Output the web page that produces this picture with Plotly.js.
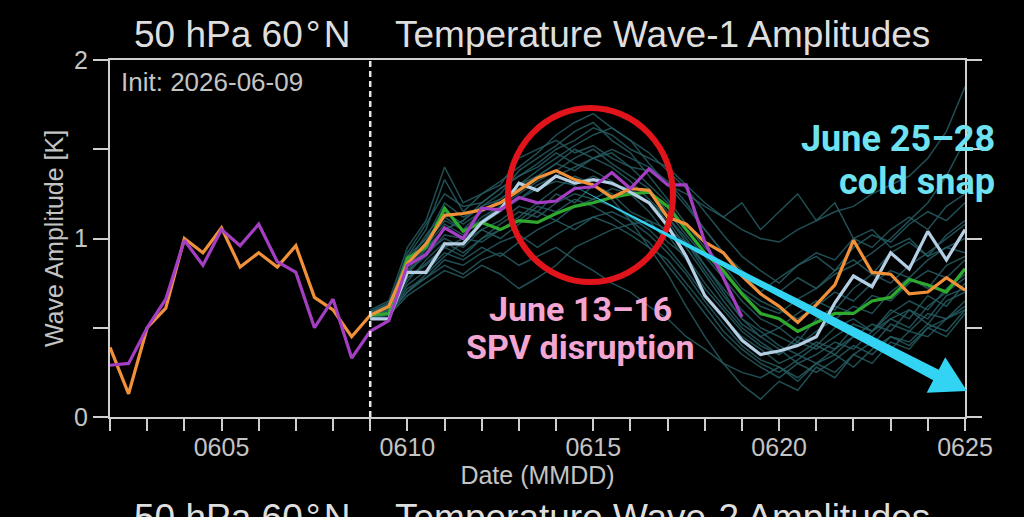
<!DOCTYPE html>
<html>
<head>
<meta charset="utf-8">
<script src="https://cdn.plot.ly/plotly-3.0.1.min.js"></script>
<style>
html,body{margin:0;padding:0;background:#000;}
#chart{width:1024px;height:517px;}
</style>
</head>
<body>
<div id="chart"></div>
<script>
// Time axis: day of June, 12-hourly
const days = [2,2.5,3,3.5,4,4.5,5,5.5,6,6.5,7,7.5,8,8.5,9,9.5,10,10.5,11,11.5,12,12.5,13,13.5,14,14.5,15,15.5,16,16.5,17,17.5,18,18.5,19,19.5,20,20.5,21,21.5,22,22.5,23,23.5,24,24.5,25];
const fcDays = [9,9.5,10,10.5,11,11.5,12,12.5,13,13.5,14,14.5,15,15.5,16,16.5,17,17.5,18,18.5,19,19.5,20,20.5,21,21.5,22,22.5,23,23.5,24,24.5,25];
const purpleDays = [2,2.5,3,3.5,4,4.5,5,5.5,6,6.5,7,7.5,8,8.5,9,9.5,10,10.5,11,11.5,12,12.5,13,13.5,14,14.5,15,15.5,16,16.5,17,17.5,18,18.5,19];

const orange = [0.39,0.13,0.50,0.61,1.00,0.92,1.06,0.84,0.92,0.84,0.96,0.67,0.60,0.45,0.57,0.62,0.86,0.97,1.13,1.14,1.16,1.20,1.27,1.34,1.38,1.33,1.30,1.23,1.28,1.27,1.12,1.08,0.98,0.92,0.79,0.69,0.62,0.53,0.63,0.74,0.99,0.81,0.80,0.69,0.70,0.78,0.71];
const purple = [0.29,0.30,0.50,0.66,0.99,0.85,1.05,0.96,1.08,0.87,0.81,0.50,0.66,0.33,0.48,0.54,0.85,0.91,1.06,1.00,1.17,1.16,1.23,1.20,1.21,1.28,1.29,1.37,1.28,1.39,1.30,1.30,0.98,0.78,0.56];
const green = [0.57,0.58,0.89,0.95,1.17,1.04,1.09,1.05,1.10,1.09,1.14,1.18,1.20,1.23,1.25,1.26,1.18,1.05,0.92,0.82,0.69,0.58,0.55,0.48,0.53,0.58,0.58,0.65,0.67,0.77,0.74,0.70,0.83];
const lightBlue = [0.55,0.55,0.81,0.81,0.97,0.97,1.09,1.16,1.31,1.27,1.35,1.31,1.33,1.31,1.26,1.20,1.07,0.90,0.68,0.56,0.43,0.35,0.37,0.40,0.45,0.64,0.79,0.73,0.92,0.83,1.04,0.88,1.05];

const m01 = [0.58,0.62,0.90,1.05,1.33,1.15,1.25,1.30,1.45,1.50,1.55,1.48,1.52,1.45,1.40,1.30,1.20,1.05,0.92,0.80,0.70,0.62,0.58,0.66,0.72,0.80,0.85,0.92,1.00,1.10,1.20,1.35,1.55];
const m02 = [0.57,0.60,0.82,0.95,1.05,1.10,1.20,1.28,1.35,1.42,1.50,1.55,1.62,1.58,1.50,1.45,1.40,1.30,1.20,1.12,1.05,1.00,0.98,1.05,1.10,1.15,1.18,1.25,1.30,1.35,1.45,1.60,1.85];
const m03 = [0.55,0.58,0.72,0.78,0.85,0.80,0.88,0.92,0.85,0.90,0.95,0.88,0.82,0.75,0.70,0.62,0.55,0.45,0.38,0.30,0.25,0.22,0.28,0.20,0.30,0.35,0.28,0.38,0.45,0.40,0.50,0.55,0.60];
const m04 = [0.58,0.63,0.85,0.98,1.10,1.05,1.15,1.22,1.30,1.35,1.42,1.50,1.45,1.48,1.40,1.38,1.30,1.25,1.18,1.12,1.20,1.05,1.15,1.25,1.10,1.20,1.00,1.05,0.95,1.00,0.90,0.95,1.00];
const m05 = [0.56,0.61,0.80,0.92,1.00,0.95,1.05,1.10,1.18,1.15,1.25,1.20,1.30,1.25,1.15,1.10,0.98,0.90,0.75,0.62,0.50,0.42,0.35,0.45,0.40,0.50,0.55,0.48,0.60,0.55,0.68,0.62,0.75];
const m06 = [0.57,0.60,0.78,0.85,0.95,0.90,1.00,1.05,1.12,1.20,1.28,1.35,1.30,1.22,1.10,0.95,0.80,0.62,0.45,0.30,0.18,0.10,0.20,0.15,0.28,0.22,0.35,0.30,0.42,0.38,0.50,0.45,0.58];
const m07 = [0.59,0.64,0.88,1.00,1.20,1.12,1.18,1.25,1.38,1.45,1.52,1.60,1.65,1.55,1.48,1.35,1.22,1.08,0.95,0.85,0.72,0.65,0.60,0.55,0.62,0.70,0.65,0.75,0.82,0.78,0.88,0.95,0.92];
const m08 = [0.56,0.58,0.70,0.80,0.90,0.98,1.05,1.00,1.08,1.15,1.10,1.18,1.22,1.28,1.25,1.20,1.12,1.00,0.85,0.72,0.60,0.50,0.45,0.40,0.48,0.55,0.62,0.58,0.70,0.78,0.72,0.85,0.90];
const m09 = [0.55,0.57,0.68,0.75,0.82,0.78,0.85,0.80,0.72,0.78,0.85,0.95,1.00,1.05,1.08,1.10,1.05,0.98,0.85,0.70,0.55,0.48,0.40,0.35,0.42,0.38,0.50,0.45,0.55,0.60,0.52,0.65,0.70];
const m10 = [0.58,0.62,0.92,1.08,1.25,1.18,1.20,1.28,1.35,1.40,1.48,1.42,1.38,1.32,1.25,1.15,1.02,0.88,0.72,0.60,0.48,0.40,0.35,0.42,0.38,0.45,0.52,0.48,0.58,0.65,0.60,0.72,0.80];
const m11 = [0.57,0.60,0.82,0.90,1.02,1.00,1.08,1.15,1.22,1.30,1.35,1.40,1.45,1.50,1.45,1.40,1.32,1.20,1.05,0.92,0.80,0.70,0.78,0.85,0.90,0.82,0.95,1.02,0.98,1.08,1.15,1.10,1.20];
const m12 = [0.56,0.59,0.76,0.88,0.98,0.92,1.00,1.08,1.15,1.12,1.20,1.25,1.22,1.18,1.12,1.05,0.95,0.82,0.68,0.55,0.45,0.38,0.30,0.35,0.30,0.38,0.45,0.40,0.52,0.48,0.58,0.55,0.65];
const m13 = [0.58,0.61,0.84,0.96,1.08,1.02,1.12,1.18,1.25,1.32,1.38,1.45,1.50,1.42,1.35,1.28,1.15,1.02,0.90,0.78,0.65,0.55,0.50,0.58,0.65,0.60,0.72,0.80,0.75,0.85,0.92,1.00,1.08];
const m14 = [0.55,0.58,0.74,0.82,0.92,0.88,0.95,0.90,0.98,1.05,1.10,1.05,1.12,1.08,1.02,0.95,0.88,0.75,0.62,0.48,0.38,0.30,0.25,0.32,0.40,0.35,0.45,0.52,0.48,0.60,0.55,0.68,0.72];
const m15 = [0.59,0.63,0.86,1.02,1.15,1.08,1.15,1.20,1.28,1.35,1.42,1.38,1.45,1.40,1.32,1.22,1.12,0.98,0.82,0.68,0.55,0.45,0.38,0.30,0.35,0.42,0.38,0.48,0.55,0.50,0.62,0.70,0.78];
const m16 = [0.57,0.60,0.80,0.94,1.05,1.10,1.18,1.22,1.30,1.38,1.45,1.52,1.58,1.62,1.55,1.48,1.38,1.28,1.15,1.02,0.90,0.82,0.75,0.85,0.92,0.88,1.00,0.95,1.05,1.12,1.05,1.18,1.25];
const m17 = [0.56,0.59,0.78,0.86,0.95,1.00,0.98,1.05,1.10,1.18,1.15,1.22,1.18,1.12,1.05,0.98,0.85,0.72,0.58,0.45,0.35,0.28,0.22,0.30,0.25,0.32,0.40,0.35,0.45,0.42,0.52,0.48,0.60];
const m18 = [0.58,0.62,0.90,1.00,1.12,1.05,1.10,1.18,1.22,1.28,1.32,1.30,1.35,1.30,1.28,1.20,1.10,0.95,0.80,0.65,0.52,0.45,0.50,0.42,0.55,0.62,0.58,0.68,0.65,0.75,0.82,0.78,0.88];
const m19 = [0.60,0.65,0.95,1.10,1.40,1.20,1.25,1.32,1.40,1.48,1.58,1.65,1.70,1.62,1.55,1.42,1.30,1.18,1.05,0.92,0.82,0.75,0.70,0.78,0.72,0.82,0.88,0.80,0.92,0.98,0.90,1.02,1.10];
const m20 = [0.55,0.58,0.70,0.78,0.88,0.85,0.92,0.98,1.02,0.95,1.02,1.08,1.12,1.15,1.10,1.02,0.92,0.80,0.65,0.52,0.40,0.32,0.28,0.22,0.30,0.25,0.35,0.42,0.38,0.48,0.45,0.55,0.62];
const members = [m01,m02,m03,m04,m05,m06,m07,m08,m09,m10,m11,m12,m13,m14,m15,m16,m17,m18,m19,m20];

const xTickVals = [2,3,4,5,6,7,8,9,10,11,12,13,14,15,16,17,18,19,20,21,22,23,24,25];
const xTickText = ['','','','0605','','','','','0610','','','','','0615','','','','','0620','','','','','0625'];
const yTickVals = [0,0.5,1,1.5,2];
const yTickText = ['0','','1','','2'];
const initDay = 9;

const traces = [];
members.forEach(m => traces.push({
  x: fcDays, y: m, mode: 'lines', hoverinfo: 'skip', showlegend: false,
  line: {color: 'rgba(38,92,97,0.85)', width: 1.5}
}));
traces.push({x: fcDays, y: green, mode: 'lines', showlegend: false, line: {color: '#2ea82e', width: 3.2}});
traces.push({x: fcDays, y: lightBlue, mode: 'lines', showlegend: false, line: {color: '#b4cfe4', width: 3.2}});
traces.push({x: days, y: orange, mode: 'lines', showlegend: false, line: {color: '#f0913a', width: 3.2}});
traces.push({x: purpleDays, y: purple, mode: 'lines', showlegend: false, line: {color: '#a43fc4', width: 3.2}});

const axisCol = '#cfcfcf';
const fam = 'Liberation Sans, Arial, sans-serif';
const tickFont = {family: fam, size: 25, color: '#c4c4c4'};
const py = p => (417 - p) / 357;   // pixel row -> paper y (layout helper)
const px = p => (p - 110) / 855;   // pixel col -> paper x (layout helper)

const layout = {
  width: 1024, height: 517,
  paper_bgcolor: '#000', plot_bgcolor: '#000',
  margin: {l: 110, r: 59, t: 60, b: 100},
  showlegend: false,
  xaxis: {
    range: [2, 25], showgrid: false, zeroline: false,
    showline: true, linecolor: axisCol, linewidth: 2, mirror: true,
    tickmode: 'array', tickvals: xTickVals, ticktext: xTickText,
    ticks: 'outside', ticklen: 12, tickwidth: 2, tickcolor: axisCol,
    tickfont: tickFont, ticklabelstandoff: -5,
    title: {text: 'Date (MMDD)', font: {family: fam, size: 25, color: '#c4c4c4'}, standoff: 4}
  },
  yaxis: {
    range: [0, 2], showgrid: false, zeroline: false,
    showline: true, linecolor: axisCol, linewidth: 2, mirror: 'allticks',
    tickmode: 'array', tickvals: yTickVals, ticktext: yTickText,
    ticks: 'outside', ticklen: 15, tickwidth: 2, tickcolor: axisCol,
    tickfont: tickFont,
    title: {text: 'Wave Amplitude [K]', font: {family: fam, size: 25, color: '#c4c4c4'}, standoff: 3}
  },
  shapes: [
    {type: 'line', xref: 'x', yref: 'paper', x0: initDay, x1: initDay, y0: 0, y1: 1,
     line: {color: '#e6e6e6', width: 2.5, dash: '6px,4px'}},
    {type: 'circle', xref: 'paper', yref: 'paper', x0: 0.4655, x1: 0.6585, y0: 0.378, y1: 0.8655,
     line: {color: '#e2141b', width: 6}, layer: 'above'},
    {type: 'path', xref: 'paper', yref: 'paper', layer: 'above',
     path: 'M0.5357,0.6555 L0.9693,0.1325 L0.9769,0.1672 L1.0023,0.0728 L0.9552,0.0681 L0.9628,0.1028 Z',
     fillcolor: '#33d3f3', line: {width: 0}}
  ],
  annotations: [
    {xref: 'paper', yref: 'paper', x: px(242), y: py(34), xanchor: 'center', yanchor: 'middle',
     text: '50 hPa 60\u200A\u00B0\u200AN', showarrow: false,
     font: {family: fam, size: 37, color: '#dedede'}},
    {xref: 'paper', yref: 'paper', x: px(662), y: py(34), xanchor: 'center', yanchor: 'middle',
     text: 'Temperature Wave-1 Amplitudes', showarrow: false,
     font: {family: fam, size: 37, color: '#dedede'}},
    {xref: 'paper', yref: 'paper', x: px(242), y: py(517), xanchor: 'center', yanchor: 'middle',
     text: '50 hPa 60\u200A\u00B0\u200AN', showarrow: false,
     font: {family: fam, size: 37, color: '#dedede'}},
    {xref: 'paper', yref: 'paper', x: px(662), y: py(517), xanchor: 'center', yanchor: 'middle',
     text: 'Temperature Wave-2 Amplitudes', showarrow: false,
     font: {family: fam, size: 37, color: '#dedede'}},
    {xref: 'paper', yref: 'paper', x: px(119), y: py(82), xanchor: 'left', yanchor: 'middle',
     text: 'Init: 2026-06-09', showarrow: false,
     font: {family: fam, size: 26, color: '#c4c4c4'}},
    {xref: 'paper', yref: 'paper', x: px(580), y: py(309), xanchor: 'center', yanchor: 'middle',
     text: 'June 13\u201316', showarrow: false,
     font: {family: 'Roboto, sans-serif', size: 34, color: '#f4a6d3', weight: 'bold'}},
    {xref: 'paper', yref: 'paper', x: px(580), y: py(347), xanchor: 'center', yanchor: 'middle',
     text: 'SPV disruption', showarrow: false,
     font: {family: 'Roboto, sans-serif', size: 34, color: '#f4a6d3', weight: 'bold'}},
    {xref: 'paper', yref: 'paper', x: px(997), y: py(139), xanchor: 'right', yanchor: 'middle',
     text: 'June 25\u201328', showarrow: false,
     font: {family: 'Roboto, sans-serif', size: 36, color: '#6ee2f0', weight: 'bold'}},
    {xref: 'paper', yref: 'paper', x: px(997), y: py(182), xanchor: 'right', yanchor: 'middle',
     text: 'cold snap', showarrow: false,
     font: {family: 'Roboto, sans-serif', size: 36, color: '#6ee2f0', weight: 'bold'}}
  ]
};

Plotly.newPlot('chart', traces, layout, {displayModeBar: false, staticPlot: true});
</script>
</body>
</html>
